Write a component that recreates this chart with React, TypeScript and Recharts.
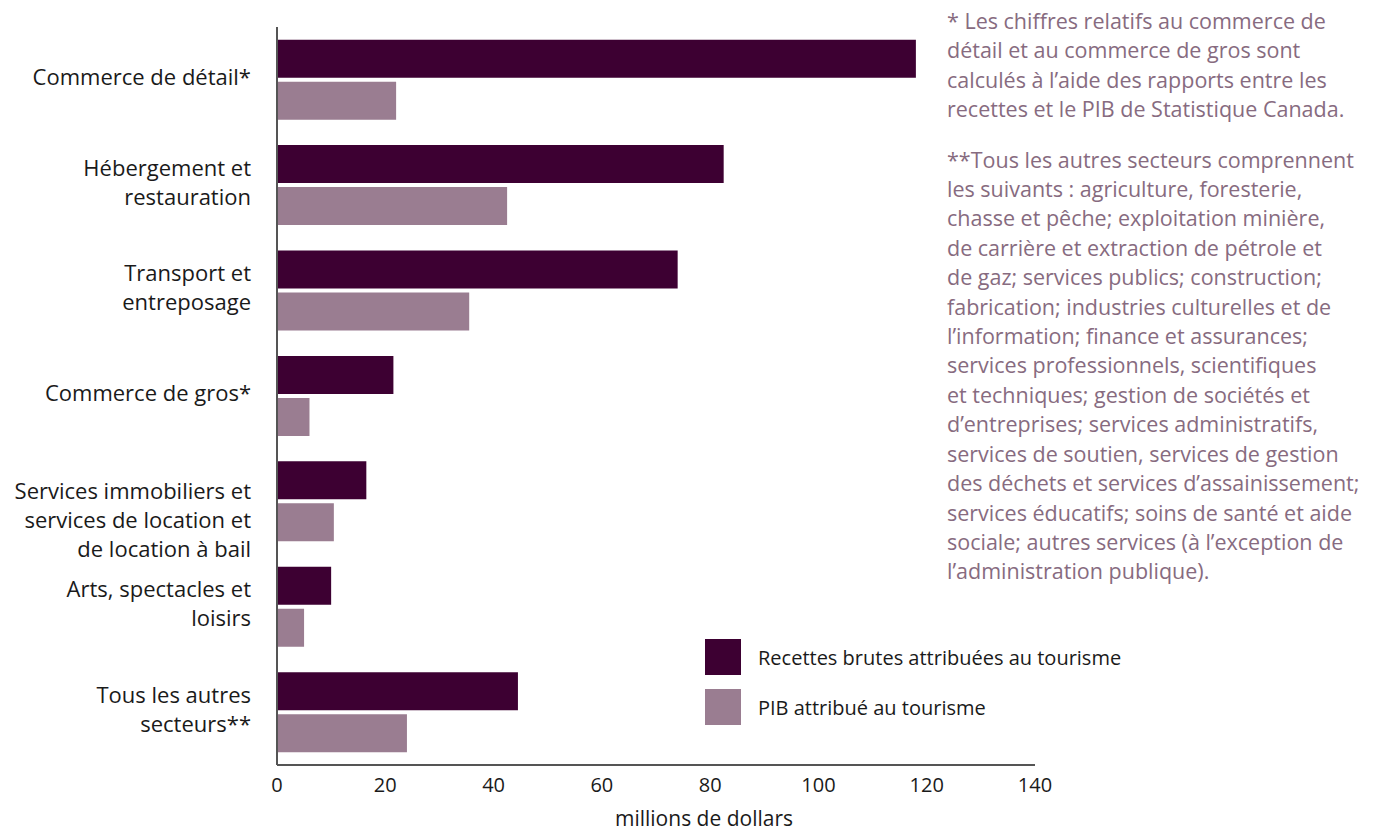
import { Bar, BarChart, XAxis, YAxis } from "recharts";

const categories = [
  "Commerce de détail*",
  "Hébergement et\nrestauration",
  "Transport et\nentreposage",
  "Commerce de gros*",
  "Services immobiliers et\nservices de location et\nde location à bail",
  "Arts, spectacles et\nloisirs",
  "Tous les autres\nsecteurs**",
];
const recettes = [118, 82.5, 74, 21.5, 16.5, 10, 44.5];
const pib = [22, 42.5, 35.5, 6, 10.5, 5, 24];
const xTicks = [0, 20, 40, 60, 80, 100, 120, 140];

const seriesNames = ["Recettes brutes attribuées au tourisme", "PIB attribué au tourisme"];

const note1 =
  "* Les chiffres relatifs au commerce de\ndétail et au commerce de gros sont\ncalculés à l’aide des rapports entre les\nrecettes et le PIB de Statistique Canada.";
const note2 =
  "**Tous les autres secteurs comprennent\nles suivants : agriculture, foresterie,\nchasse et pêche; exploitation minière,\nde carrière et extraction de pétrole et\nde gaz; services publics; construction;\nfabrication; industries culturelles et de\nl’information; finance et assurances;\nservices professionnels, scientifiques\net techniques; gestion de sociétés et\nd’entreprises; services administratifs,\nservices de soutien, services de gestion\ndes déchets et services d’assainissement;\nservices éducatifs; soins de santé et aide\nsociale; autres services (à l’exception de\nl’administration publique).";

const data = categories.map((name, i) => ({ name, recettes: recettes[i], pib: pib[i] }));

const DARK = "#3d0032";
const LIGHT = "#9a7d91";
const FONT = "'Open Sans', sans-serif";

function CategoryTick({ x, y, payload }: any) {
  const lines = String(payload.value).split("\n");
  const lh = 29;
  const start = lines.length === 3 ? y - 11 : y - 4 - ((lines.length - 1) * lh) / 2;
  return (
    <text x={x - 18} y={start} textAnchor="end" fontFamily={FONT} fontSize={22} fill="#1a1a1a" dominantBaseline="central">
      {lines.map((l, i) => (
        <tspan key={i} x={x - 18} dy={i === 0 ? 0 : lh}>
          {l}
        </tspan>
      ))}
    </text>
  );
}

function ValueTick({ x, y, payload }: any) {
  return (
    <text x={x} y={y + 11} textAnchor="middle" fontFamily="'Liberation Sans Narrow', 'Open Sans', sans-serif" fontSize={20} fill="#1a1a1a" dominantBaseline="central">
      {payload.value}
    </text>
  );
}

function LegendBox() {
  const colors = [DARK, LIGHT];
  return (
    <div style={{ position: "absolute", left: 705, top: 639, fontFamily: FONT, fontSize: 20, color: "#1a1a1a" }}>
      {seriesNames.map((n, i) => (
        <div key={n} style={{ display: "flex", alignItems: "center", height: 36, marginBottom: 14 }}>
          <span style={{ width: 36, height: 36, background: colors[i], marginRight: 17 }} />
          <span>{n}</span>
        </div>
      ))}
    </div>
  );
}

export default function App() {
  return (
    <div style={{ position: "absolute", top: 0, left: 0, width: 1373, height: 832, background: "#fff" }}>
      <BarChart
        width={1373}
        height={832}
        data={data}
        layout="vertical"
        margin={{ top: 27, right: 338, bottom: 0, left: 0 }}
        barCategoryGap="12%"
        barGap={4}
      >
        <XAxis
          type="number"
          domain={[0, 140]}
          ticks={xTicks}
          tickLine={false}
          axisLine={{ stroke: "#555", strokeWidth: 2 }}
          tick={<ValueTick />}
          height={67}
          label={{
            content: ({ viewBox }: any) => (
              <text
                x={viewBox.x + viewBox.width / 2 + 48}
                y={viewBox.y + 53}
                textAnchor="middle"
                fontFamily={FONT}
                fontSize={21}
                fill="#1a1a1a"
                dominantBaseline="central"
              >
                millions de dollars
              </text>
            ),
          }}
        />
        <YAxis
          type="category"
          dataKey="name"
          width={277}
          tickLine={false}
          axisLine={{ stroke: "#555", strokeWidth: 2 }}
          tick={<CategoryTick />}
          interval={0}
        />
        <Bar dataKey="recettes" name={seriesNames[0]} fill={DARK} isAnimationActive={false} />
        <Bar dataKey="pib" name={seriesNames[1]} fill={LIGHT} isAnimationActive={false} />
      </BarChart>
      <LegendBox />
      <div
        style={{
          position: "absolute",
          left: 947,
          top: 6,
          fontFamily: FONT,
          fontSize: 21.5,
          lineHeight: "29.4px",
          color: "#876b80",
          whiteSpace: "pre",
        }}
      >
        <div>{note1}</div>
        <div style={{ marginTop: 21 }}>{note2}</div>
      </div>
    </div>
  );
}
